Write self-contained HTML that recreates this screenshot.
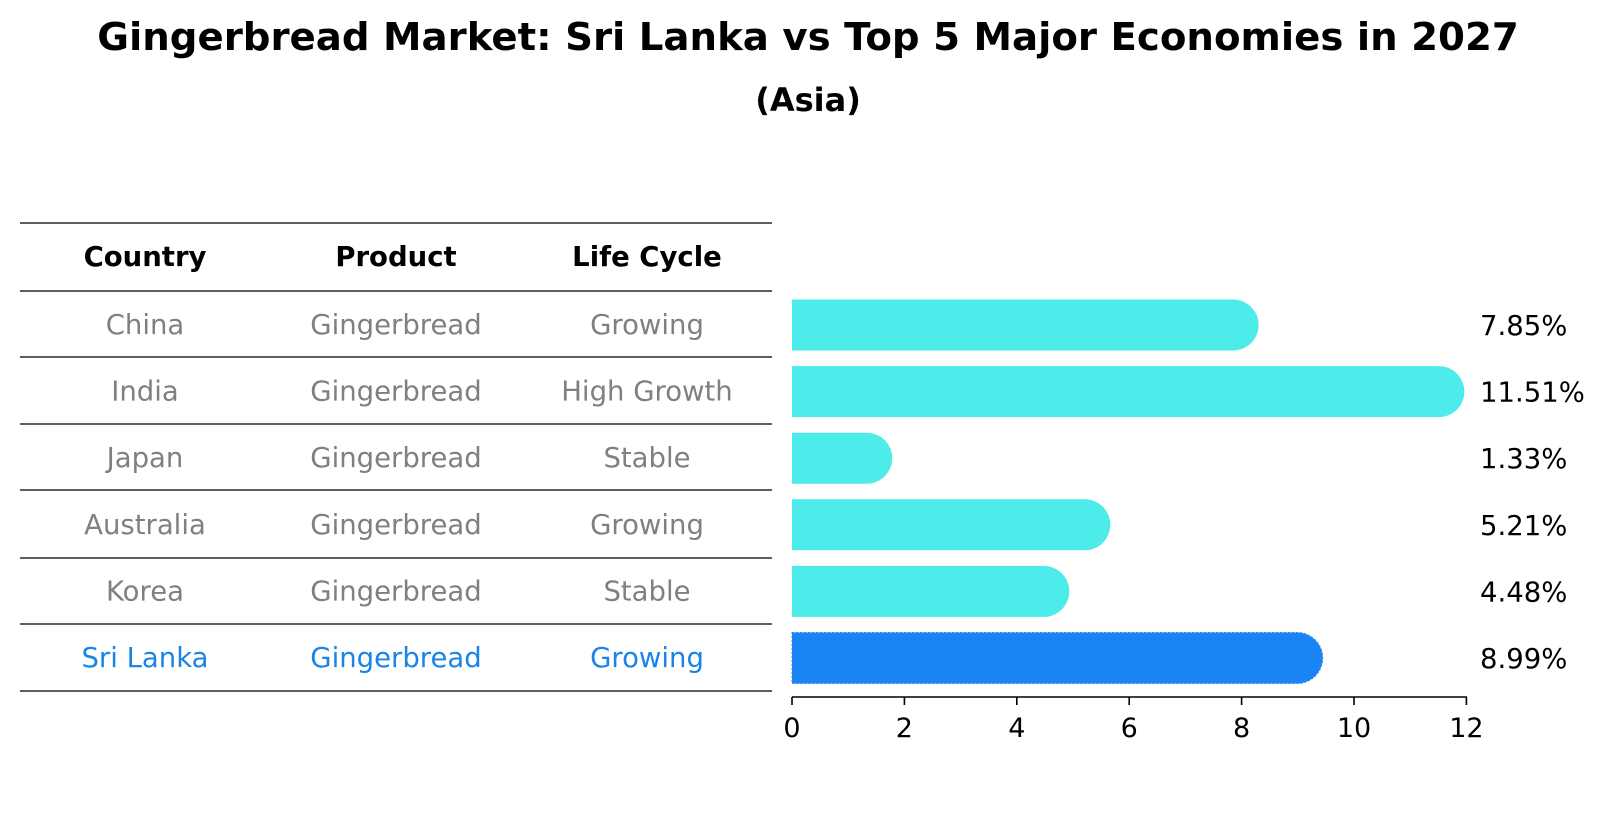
<!DOCTYPE html>
<html><head><meta charset="utf-8"><style>
body{margin:0;background:#fff;font-family:"DejaVu Sans","Liberation Sans",sans-serif}
</style></head><body>
<svg width="1604" height="823" xmlns="http://www.w3.org/2000/svg" font-family="DejaVu Sans, Liberation Sans, sans-serif">
<text x="808" y="50" text-anchor="middle" font-size="38.7" font-weight="bold">Gingerbread Market: Sri Lanka vs Top 5 Major Economies in 2027</text>
<text x="808" y="111" text-anchor="middle" font-size="32" font-weight="bold">(Asia)</text>
<g id="table"></g>
<g id="chart"></g>
</svg>
<script>
const countries=["China","India","Japan","Australia","Korea","Sri Lanka"];
const products=["Gingerbread","Gingerbread","Gingerbread","Gingerbread","Gingerbread","Gingerbread"];
const lifeCycles=["Growing","High Growth","Stable","Growing","Stable","Growing"];
const values=[7.85,11.51,1.33,5.21,4.48,8.99];
const ticks=[0,2,4,6,8,10,12];
const NS="http://www.w3.org/2000/svg";
function mk(tag,attrs,parent){const e=document.createElementNS(NS,tag);for(const k in attrs)e.setAttribute(k,attrs[k]);parent.appendChild(e);return e;}
const tbl=document.getElementById('table'),ch=document.getElementById('chart');
const rowY=i=>324+i*66.6;
const x=v=>792+v*56.2;
const lineYs=[223,291,357,424,490,558,624,691];
lineYs.forEach(y=>{const l=mk('line',{x1:20,x2:772,y1:y,y2:y,stroke:'#000','stroke-width':1.2},tbl);

});
const colX=[145,396,647];
["Country","Product","Life Cycle"].forEach((h,j)=>{const t=mk('text',{x:colX[j],y:266,'text-anchor':'middle','font-size':27.5,'font-weight':'bold'},tbl);t.textContent=h;

});
countries.forEach((c,i)=>{
 const col=i===5?'#1a84e8':'#808080';
 [c,products[i],lifeCycles[i]].forEach((s,j)=>{const t=mk('text',{x:colX[j],y:rowY(i)+10,'text-anchor':'middle','font-size':27.5,fill:col},tbl);t.textContent=s;
 
 });
 const cy=rowY(i)+1, h=51, r=25.5;
 const color=i===5?'#1a84f5':'#4deceb';
 const xe=x(values[i]);
 const p=mk('path',{d:`M792 ${cy-h/2} H${xe} A${r} ${r} 0 0 1 ${xe} ${cy+h/2} H792 Z`,fill:color},ch);
 if(i===5){p.setAttribute('stroke','#2a8af0');p.setAttribute('stroke-dasharray','2 2');}
 
 
 const lt=mk('text',{x:1480,y:cy+10,'font-size':27.5},ch);lt.textContent=values[i].toFixed(2)+'%';
 
 
});
const ax=mk('line',{x1:792,x2:1467,y1:697,y2:697,stroke:'#000','stroke-width':1.6},ch);


ticks.forEach(v=>{const l=mk('line',{x1:x(v),x2:x(v),y1:697,y2:705,stroke:'#000','stroke-width':1.6},ch);


const t=mk('text',{x:x(v),y:737,'text-anchor':'middle','font-size':27},ch);t.textContent=v;

});
</script>
</body></html>
